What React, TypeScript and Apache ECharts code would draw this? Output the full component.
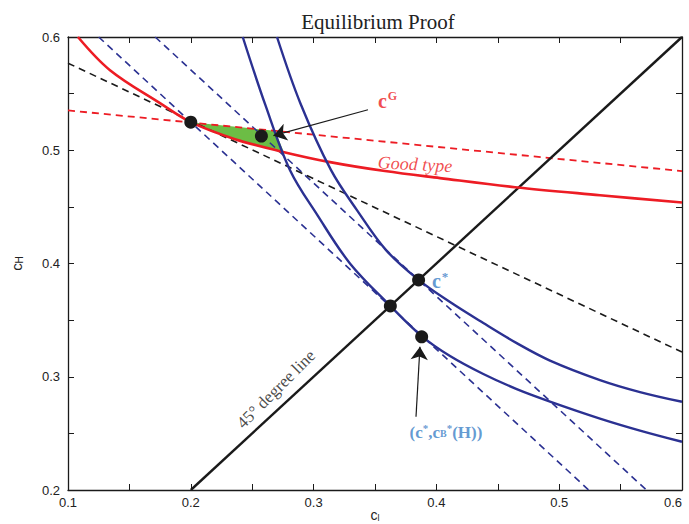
import React, { useEffect, useRef } from "react";
import * as echarts from "echarts";

// ---- data ----
const xTicks = [0.1, 0.2, 0.3, 0.4, 0.5, 0.6];
const yTicks = [0.2, 0.3, 0.4, 0.5, 0.6];

const redCurveX = [0.1081, 0.1342, 0.1749, 0.2, 0.236, 0.2726, 0.3134, 0.3581, 0.4029, 0.464, 0.5332, 0.6];
const redCurveY = [0.6, 0.5707, 0.5416, 0.5248, 0.5098, 0.4992, 0.4895, 0.4816, 0.4754, 0.4674, 0.4603, 0.4538];

const redDashX = [0.1, 0.6];
const redDashY = [0.5352, 0.4816];

const blackDashX = [0.1, 0.6];
const blackDashY = [0.5769, 0.3218];

const diagX = [0.2, 0.6];
const diagY = [0.2, 0.6];

const blueInnerX = [0.2423, 0.2607, 0.2808, 0.3031, 0.3296, 0.3625, 0.388, 0.4111, 0.4382, 0.4654, 0.4925, 0.5332, 0.5658, 0.6];
const blueInnerY = [0.6, 0.54, 0.4824, 0.4427, 0.4001, 0.3625, 0.3359, 0.3183, 0.3024, 0.2891, 0.2781, 0.2631, 0.2525, 0.2426];

const blueOuterX = [0.2702, 0.2893, 0.3142, 0.3353, 0.359, 0.3855, 0.4111, 0.4382, 0.4654, 0.4925, 0.5332, 0.5658, 0.6];
const blueOuterY = [0.6, 0.5413, 0.4824, 0.4471, 0.4118, 0.3855, 0.3659, 0.3474, 0.3297, 0.3143, 0.2971, 0.2865, 0.2779];

const blueDash1X = [0.125, 0.524];
const blueDash1Y = [0.6, 0.2];
const blueDash2X = [0.171, 0.571];
const blueDash2Y = [0.6, 0.2];

const greenX = [0.2, 0.2685, 0.2758, 0.256, 0.236, 0.217];
const greenY = [0.5248, 0.5172, 0.4985, 0.5042, 0.5098, 0.5165];

const dotX = [0.2, 0.2575, 0.3855, 0.3625, 0.388];
const dotY = [0.5248, 0.5125, 0.3855, 0.3625, 0.3353];

const arrowFrom = [
  [0.3443, 0.5358],
  [0.3834, 0.2647],
];
const arrowTo = [
  [0.2673, 0.5129],
  [0.3866, 0.3265],
];

const RED = "#ed1c24";
const NAVY = "#2b3192";
const LBLUE = "#3b80c6";
const BLACK = "#1a1a1a";
const GREEN = "#6cbd45";
const SERIF = "'Liberation Serif', 'Times New Roman', serif";
const SANS = "'Liberation Sans', Arial, sans-serif";

const zip = (xs: number[], ys: number[]) => xs.map((x, i) => [x, ys[i]]);

export default function App() {
  const ref = useRef<HTMLDivElement>(null);
  useEffect(() => {
    if (!ref.current) return;
    const chart = echarts.init(ref.current, undefined, { renderer: "svg" });

    const lineSeries = (data: number[][], color: string, width: number, dashed: boolean, smooth: boolean | number = false) => ({
      type: "line",
      data,
      symbol: "none",
      smooth,
      lineStyle: { color, width, type: dashed ? [7, 5] : "solid" },
      silent: true,
      z: 3,
    });

    const labelPoint = (x: number, y: number, label: any) => ({
      type: "scatter",
      data: [[x, y]],
      symbolSize: 0,
      silent: true,
      z: 10,
      label: { show: true, ...label },
    });

    const axisCommon = {
      axisLine: { show: true, onZero: false, lineStyle: { color: BLACK, width: 1.3 } },
      axisTick: { show: true, inside: true, length: 6, lineStyle: { color: BLACK, width: 1 } },
      minorTick: { show: true, splitNumber: 2, length: 6, lineStyle: { color: BLACK, width: 1 } },
      splitLine: { show: false },
      minorSplitLine: { show: false },
    };

    chart.setOption({
      animation: false,
      backgroundColor: "#ffffff",
      title: {
        text: "Equilibrium Proof",
        left: 373,
        top: 6,
        textAlign: "center",
        textStyle: { fontFamily: SERIF, fontSize: 21, fontWeight: "normal", color: "#222" },
      },
      grid: { left: 68, right: 7, top: 37, bottom: 34, containLabel: false, outerBoundsMode: "none" },
      xAxis: [
        {
          ...axisCommon,
          type: "value",
          min: xTicks[0],
          max: xTicks[xTicks.length - 1],
          interval: 0.1,
          position: "bottom",
          axisLabel: {
            show: true,
            margin: 6,
            fontFamily: SANS,
            fontSize: 13,
            color: "#222",
            alignMaxLabel: "right",
            formatter: (v: number) => String(+v.toFixed(1)),
          },
          name: "{c|c}{s|l}",
          nameLocation: "middle",
          nameGap: 18,
          nameMoveOverlap: false,
          nameTextStyle: {
            rich: {
              c: { fontFamily: SANS, fontSize: 14, color: "#222", lineHeight: 14 },
              s: { fontFamily: SANS, fontSize: 9, color: "#222", lineHeight: 14, verticalAlign: "bottom" },
            },
          },
        },
        {
          ...axisCommon,
          type: "value",
          min: xTicks[0],
          max: xTicks[xTicks.length - 1],
          interval: 0.1,
          position: "top",
          axisLabel: { show: false },
        },
      ],
      yAxis: [
        {
          ...axisCommon,
          type: "value",
          min: yTicks[0],
          max: yTicks[yTicks.length - 1],
          interval: 0.1,
          position: "left",
          axisLabel: { show: true, margin: 8, fontFamily: SANS, fontSize: 13, color: "#222", formatter: (v: number) => String(+v.toFixed(1)) },
          name: "{c|c}{s|H}",
          nameLocation: "middle",
          nameGap: 44,
          nameMoveOverlap: false,
          nameRotate: 90,
          nameTextStyle: {
            rich: {
              c: { fontFamily: SANS, fontSize: 15, color: "#222", lineHeight: 15 },
              s: { fontFamily: SANS, fontSize: 10, color: "#222", lineHeight: 15, verticalAlign: "bottom" },
            },
          },
        },
        {
          ...axisCommon,
          type: "value",
          min: yTicks[0],
          max: yTicks[yTicks.length - 1],
          interval: 0.1,
          position: "right",
          axisLabel: { show: false },
        },
      ],
      series: [
        {
          type: "custom",
          data: zip(greenX, greenY),
          silent: true,
          z: 1,
          renderItem: (params: any, api: any) => {
            if (params.dataIndex !== 0) return null;
            const pts = greenX.map((x, i) => api.coord([x, greenY[i]]));
            return { type: "polygon", shape: { points: pts }, style: { fill: GREEN } };
          },
        },
        lineSeries(zip(blueDash1X, blueDash1Y), NAVY, 1.6, true),
        lineSeries(zip(blueDash2X, blueDash2Y), NAVY, 1.6, true),
        lineSeries(zip(blackDashX, blackDashY), BLACK, 1.6, true),
        lineSeries(zip(redDashX, redDashY), RED, 1.8, true),
        lineSeries(zip(diagX, diagY), BLACK, 2.4, false),
        lineSeries(zip(redCurveX, redCurveY), RED, 2.6, false, 0.35),
        lineSeries(zip(blueInnerX, blueInnerY), NAVY, 2.4, false, 0.35),
        lineSeries(zip(blueOuterX, blueOuterY), NAVY, 2.4, false, 0.35),
        {
          type: "lines",
          coordinateSystem: "cartesian2d",
          data: arrowFrom.map((f, i) => ({ coords: [f, arrowTo[i]] })),
          symbol: ["none", "arrow"],
          symbolSize: [10, 13],
          lineStyle: { color: BLACK, width: 1.2, opacity: 1, curveness: 0 },
          silent: true,
          z: 6,
        },
        {
          type: "scatter",
          data: zip(dotX, dotY),
          symbol: "circle",
          symbolSize: 13,
          itemStyle: { color: BLACK, opacity: 1 },
          silent: true,
          z: 8,
        },
        labelPoint(0.3524, 0.5433, {
          position: "right",
          distance: 0,
          formatter: "{c|c}{s|G}",
          rich: {
            c: { fontFamily: SERIF, fontSize: 20, fontWeight: "bold", color: RED, lineHeight: 22 },
            s: { fontFamily: SERIF, fontSize: 12, fontWeight: "bold", color: RED, lineHeight: 22, padding: [0, 0, 10, 1] },
          },
        }),
        labelPoint(0.3826, 0.4877, {
          position: "inside",
          formatter: "Good type",
          rotate: -3,
          fontFamily: SERIF,
          fontSize: 18,
          fontStyle: "italic",
          color: RED,
        }),
        labelPoint(0.3964, 0.3845, {
          position: "right",
          distance: 0,
          formatter: "{c|c}{s|*}",
          rich: {
            c: { fontFamily: SERIF, fontSize: 20, fontWeight: "bold", color: LBLUE, lineHeight: 22 },
            s: { fontFamily: SERIF, fontSize: 13, fontWeight: "bold", color: LBLUE, lineHeight: 22, padding: [0, 0, 10, 1] },
          },
        }),
        labelPoint(0.4078, 0.2512, {
          position: "inside",
          formatter: "{t|(c}{s|*}{t|,c}{b|B}{s|*}{t|(H))}",
          rich: {
            t: { fontFamily: SERIF, fontSize: 17, fontWeight: "bold", color: LBLUE, lineHeight: 20 },
            b: { fontFamily: SERIF, fontSize: 10, fontWeight: "bold", color: LBLUE, lineHeight: 20, padding: [3, 0, 0, 0] },
            s: { fontFamily: SERIF, fontSize: 11, fontWeight: "bold", color: LBLUE, lineHeight: 20, padding: [0, 0, 8, 0] },
          },
        }),
        labelPoint(0.2694, 0.289, {
          position: "inside",
          formatter: "45° degree line",
          rotate: 45,
          fontFamily: SERIF,
          fontSize: 17,
          color: BLACK,
        }),
      ],
    });
    return () => chart.dispose();
  }, []);
  return <div ref={ref} style={{ position: "fixed", left: 0, top: 0, width: 689, height: 524 }} />;
}
